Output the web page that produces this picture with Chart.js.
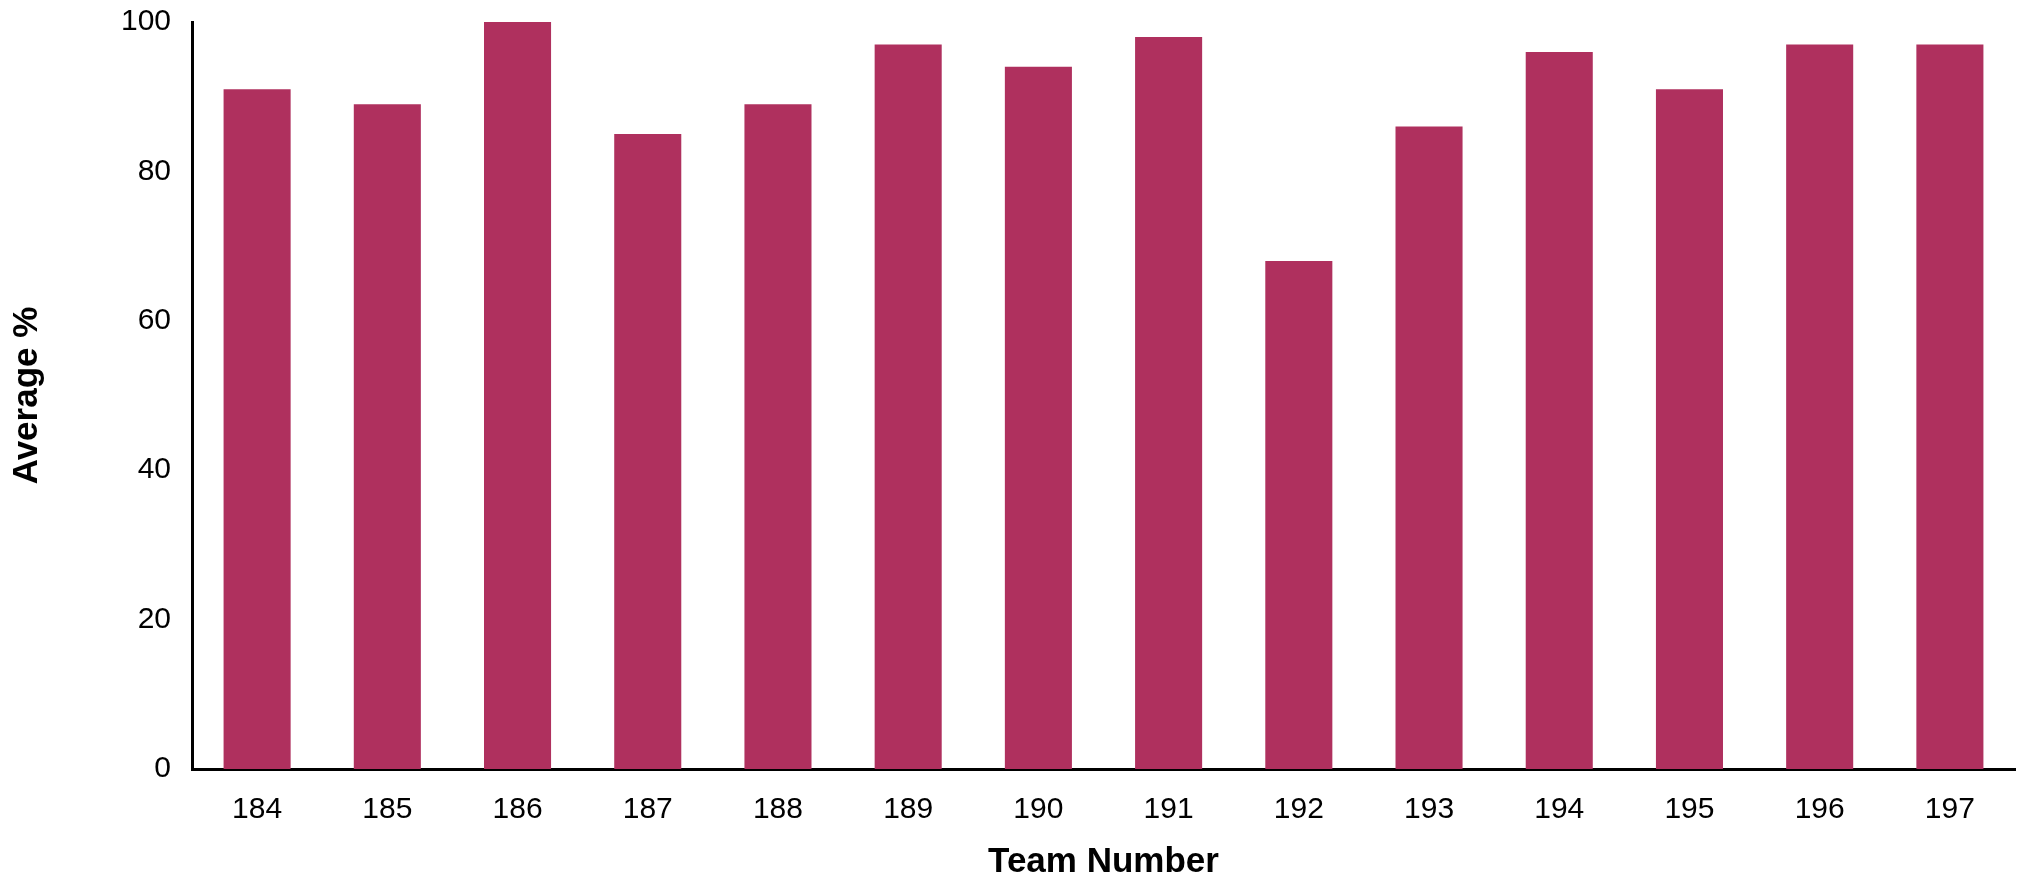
<!DOCTYPE html>
<html>
<head>
<meta charset="utf-8">
<script src="https://cdn.jsdelivr.net/npm/chart.js@4/dist/chart.umd.min.js"></script>
<style>
  html, body { margin: 0; padding: 0; background: #ffffff; }
  #wrap { width: 2021px; height: 880px; position: relative; }
</style>
</head>
<body>
<div id="wrap"><canvas id="c" width="2021" height="880"></canvas></div>
<script>
const teams = ["184","185","186","187","188","189","190","191","192","193","194","195","196","197"];
const averages = [91, 89, 100, 85, 89, 97, 94, 98, 68, 86, 96, 91, 97, 97];
const yTicks = [0, 20, 40, 60, 80, 100];
const xTitle = "Team Number";
const yTitle = "Average %";

const FONT = "'Liberation Sans', Arial, Helvetica, sans-serif";

new Chart(document.getElementById('c'), {
  type: 'bar',
  data: {
    labels: teams,
    datasets: [{
      data: averages,
      backgroundColor: '#AF305E',
      borderWidth: 0,
      barPercentage: 0.515,
      categoryPercentage: 1.0
    }]
  },
  options: {
    responsive: false,
    animation: false,
    devicePixelRatio: 1,
    layout: { padding: { top: 22, left: 10, right: 6, bottom: 0 } },
    plugins: { legend: { display: false }, tooltip: { enabled: false } },
    scales: {
      x: {
        grid: { display: false, drawTicks: false },
        border: { display: true, color: '#000000', width: 3 },
        ticks: { color: '#000000', font: { family: FONT, size: 30 }, padding: 23, maxRotation: 0 },
        title: { display: true, text: xTitle, color: '#000000', padding: 0,
                 font: { family: FONT, size: 35, weight: 'bold', lineHeight: 1 } },
        afterFit: (s) => { s.height = 111; }
      },
      y: {
        min: 0, max: 100,
        grid: { display: false, drawTicks: false },
        border: { display: true, color: '#000000', width: 3 },
        afterBuildTicks: (s) => { s.ticks = yTicks.map(v => ({ value: v })); },
        ticks: { color: '#000000', font: { family: FONT, size: 30 }, padding: 21 },
        title: { display: true, text: yTitle, color: '#000000', padding: 0,
                 font: { family: FONT, size: 35, weight: 'bold', lineHeight: 1 } },
        afterFit: (s) => { s.width = 182; s.paddingTop = 0; s.paddingBottom = 0; }
      }
    }
  }
});
</script>
</body>
</html>
